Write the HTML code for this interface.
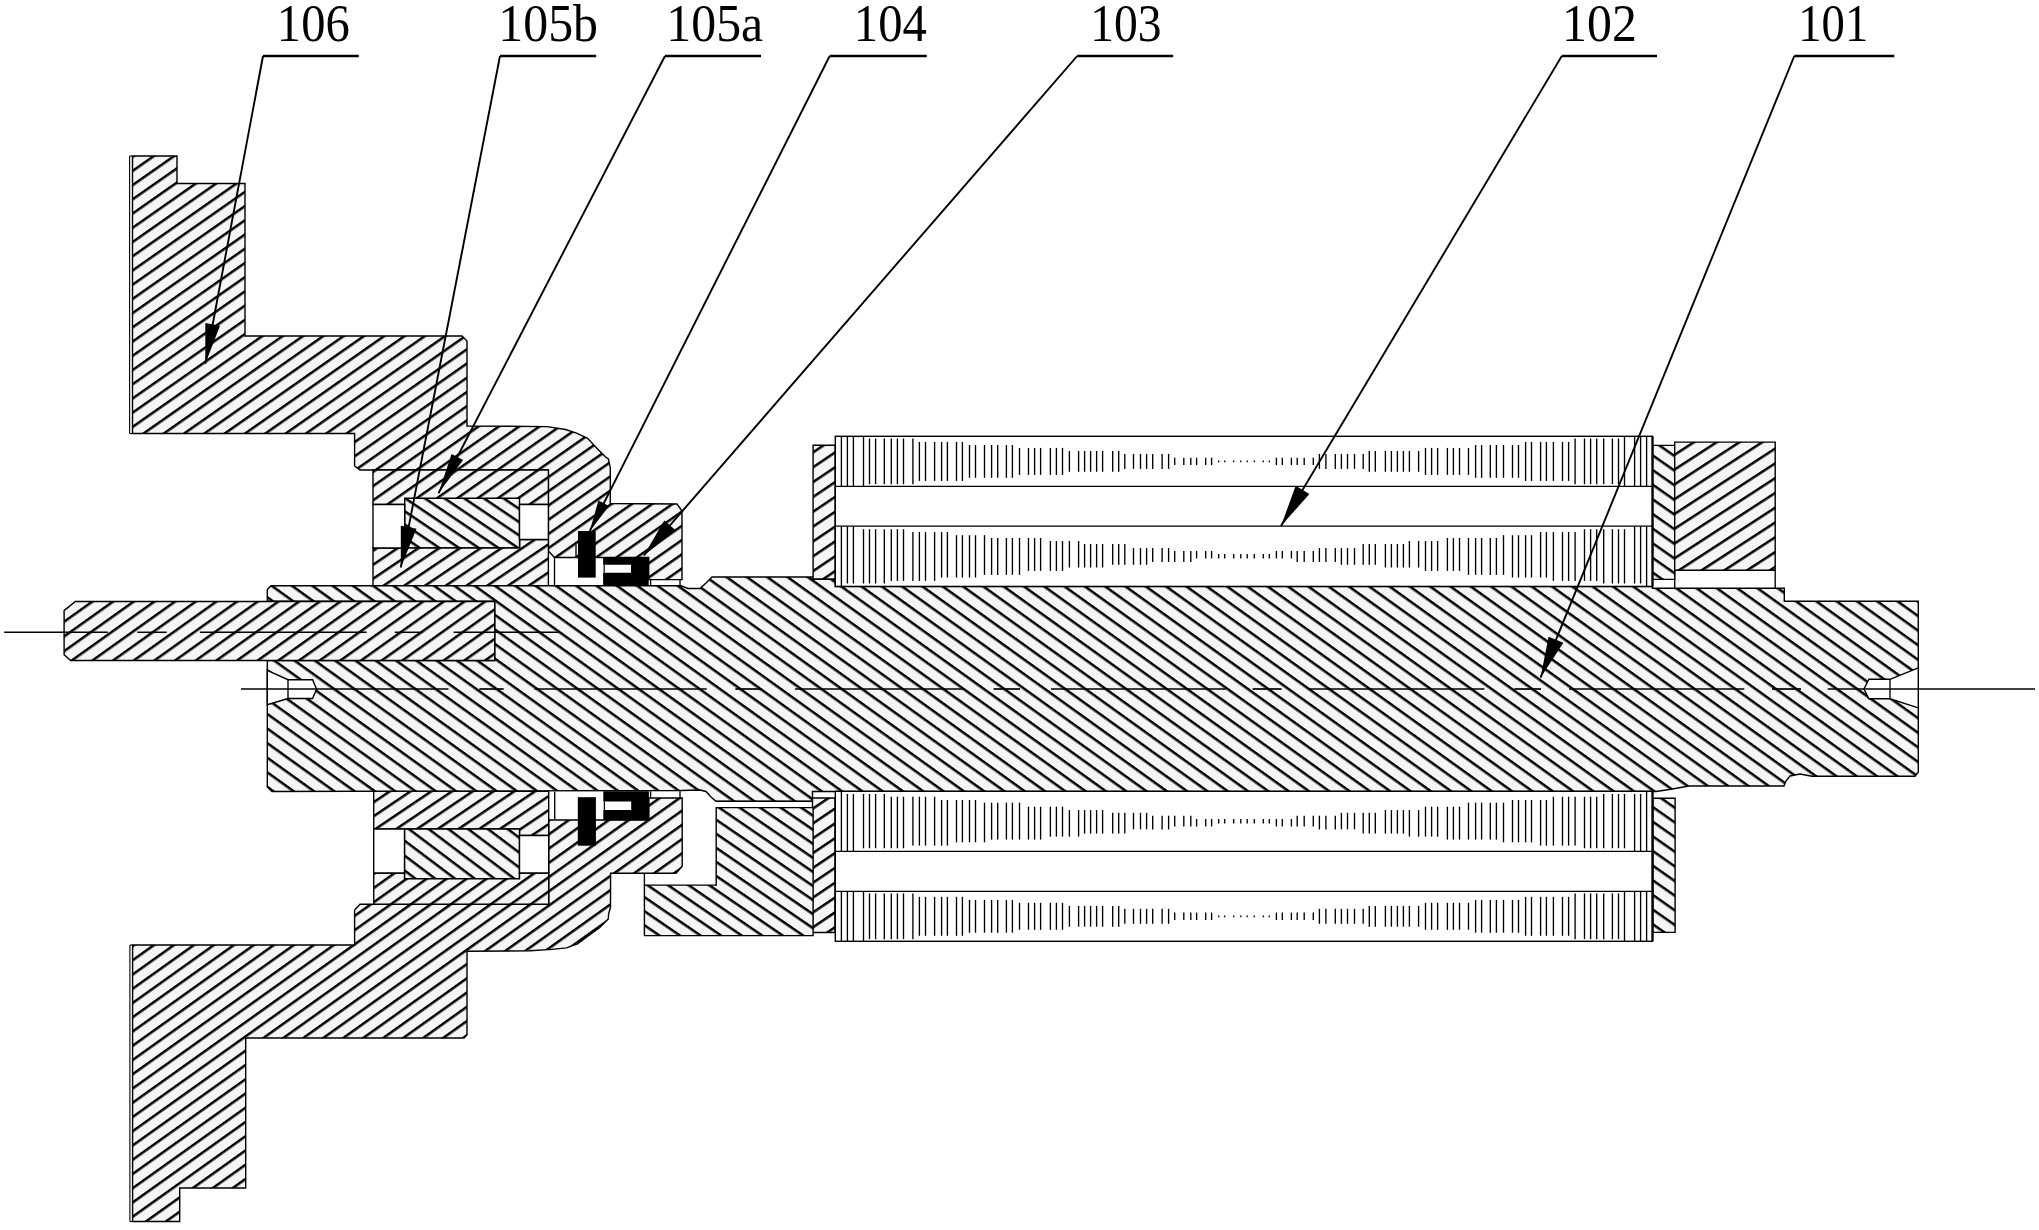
<!DOCTYPE html>
<html><head><meta charset="utf-8"><style>html,body{margin:0;padding:0;background:#fff;overflow:hidden}svg{display:block}text{font-family:"Liberation Serif",serif}</style></head>
<body><svg width="2039" height="1230" viewBox="0 0 2039 1230" shape-rendering="auto">
<defs><pattern id="hA" patternUnits="userSpaceOnUse" width="400" height="11.65" patternTransform="rotate(-35) translate(0 5.12)"><rect x="0" y="0" width="400" height="11.65" fill="#f5f5f5"/><rect x="0" y="0" width="400" height="2.5" fill="#000"/></pattern>
<pattern id="hL" patternUnits="userSpaceOnUse" width="400" height="11.6" patternTransform="rotate(-35.5) translate(0 10.74)"><rect x="0" y="0" width="400" height="11.6" fill="#f5f5f5"/><rect x="0" y="0" width="400" height="2.5" fill="#000"/></pattern>
<pattern id="hR" patternUnits="userSpaceOnUse" width="400" height="11.6" patternTransform="rotate(-34) translate(0 2.78)"><rect x="0" y="0" width="400" height="11.6" fill="#f5f5f5"/><rect x="0" y="0" width="400" height="2.5" fill="#000"/></pattern>
<pattern id="hB" patternUnits="userSpaceOnUse" width="400" height="11.85" patternTransform="rotate(35.7) translate(0 7.81)"><rect x="0" y="0" width="400" height="11.85" fill="#f5f5f5"/><rect x="0" y="0" width="400" height="2.5" fill="#000"/></pattern>
<pattern id="hC" patternUnits="userSpaceOnUse" width="400" height="12.0" patternTransform="rotate(-35.5) translate(0 2.15)"><rect x="0" y="0" width="400" height="12.0" fill="#f5f5f5"/><rect x="0" y="0" width="400" height="2.5" fill="#000"/></pattern>
<pattern id="hD" patternUnits="userSpaceOnUse" width="400" height="11.0" patternTransform="rotate(34) translate(0 9.30)"><rect x="0" y="0" width="400" height="11.0" fill="#f5f5f5"/><rect x="0" y="0" width="400" height="2.5" fill="#000"/></pattern>
<pattern id="hF" patternUnits="userSpaceOnUse" width="400" height="12.0" patternTransform="rotate(35) translate(0 11.83)"><rect x="0" y="0" width="400" height="12.0" fill="#f5f5f5"/><rect x="0" y="0" width="400" height="2.5" fill="#000"/></pattern>
<pattern id="hE" patternUnits="userSpaceOnUse" width="400" height="12.3" patternTransform="rotate(-34) translate(0 4.39)"><rect x="0" y="0" width="400" height="12.3" fill="#f5f5f5"/><rect x="0" y="0" width="400" height="2.5" fill="#000"/></pattern>
<pattern id="hE2" patternUnits="userSpaceOnUse" width="400" height="12.4" patternTransform="rotate(-33) translate(0 2.60)"><rect x="0" y="0" width="400" height="12.4" fill="#f5f5f5"/><rect x="0" y="0" width="400" height="2.5" fill="#000"/></pattern>
<pattern id="hG" patternUnits="userSpaceOnUse" width="400" height="11.6" patternTransform="rotate(34.4) translate(0 3.68)"><rect x="0" y="0" width="400" height="11.6" fill="#f5f5f5"/><rect x="0" y="0" width="400" height="2.5" fill="#000"/></pattern>
<pattern id="hD2" patternUnits="userSpaceOnUse" width="400" height="11.9" patternTransform="rotate(37) translate(0 10.18)"><rect x="0" y="0" width="400" height="11.9" fill="#f5f5f5"/><rect x="0" y="0" width="400" height="2.5" fill="#000"/></pattern></defs>
<rect width="2039" height="1230" fill="#fff"/>
<path d="M132.5 156.0 L177.0 156.0 L177.0 183.5 L245.0 183.5 L245.0 336.0 L462.0 336.0 L467.0 341.0 L467.0 426.0 L547.3 426.6 L565.6 429.5 L576.6 433.2 L587.6 438.3 L597.1 448.5 L605.9 457.3 L608.4 459.0 L610.3 467.6 L610.3 503.5 L677.0 504.0 L682.0 511.0 L682.0 579.6 L648.7 579.6 L648.7 557.5 L554.5 557.5 L548.4 551.0 L548.4 470.0 L360.0 470.0 L354.6 466.0 L354.6 433.5 L132.5 433.5 Z" fill="url(#hA)" stroke="#000" stroke-width="1.4" stroke-linejoin="miter"/>
<path d="M129.6 156.0 L129.6 433.5" stroke="#000" stroke-width="1.1"/>
<path d="M129.6 156.0 L132.5 156.0" stroke="#000" stroke-width="1.1"/>
<path d="M129.6 433.5 L132.5 433.5" stroke="#000" stroke-width="1.1"/>
<path d="M132.6 945.0 L354.6 945.0 L354.6 910.0 L360.0 904.2 L548.7 904.2 L548.7 820.0 L648.9 820.0 L648.9 798.0 L682.2 798.0 L682.2 866.3 L676.0 873.2 L610.6 873.2 L610.5 907.3 L608.6 913.9 L608.3 919.0 L599.5 927.8 L588.5 935.8 L577.5 943.9 L566.6 947.9 L552.0 949.4 L530.0 950.8 L467.0 951.2 L467.0 1035.0 L464.0 1038.0 L245.7 1038.0 L245.7 1188.0 L179.7 1188.0 L179.7 1221.5 L132.6 1221.5 Z" fill="url(#hL)" stroke="#000" stroke-width="1.4" stroke-linejoin="miter"/>
<path d="M129.9 945.0 L129.9 1221.5" stroke="#000" stroke-width="1.1"/>
<path d="M129.9 945.0 L132.6 945.0" stroke="#000" stroke-width="1.1"/>
<path d="M129.9 1221.5 L132.6 1221.5" stroke="#000" stroke-width="1.1"/>
<path d="M373.0 470.0 L548.4 470.0 L548.4 504.5 L373.0 504.5 Z" fill="url(#hA)" stroke="#000" stroke-width="1.4" stroke-linejoin="miter"/>
<path d="M404.7 498.2 L519.5 498.2 L519.5 548.0 L404.7 548.0 Z" fill="url(#hD)" stroke="#000" stroke-width="1.4" stroke-linejoin="miter"/>
<path d="M373.0 548.0 L519.8 548.0 L519.8 539.5 L548.4 539.5 L548.4 585.8 L373.0 585.8 Z" fill="url(#hR)" stroke="#000" stroke-width="1.4" stroke-linejoin="miter"/>
<path d="M373.7 791.3 L548.7 791.3 L548.7 835.5 L519.5 835.5 L519.5 829.0 L373.7 829.0 Z" fill="url(#hR)" stroke="#000" stroke-width="1.4" stroke-linejoin="miter"/>
<path d="M404.5 829.0 L519.5 829.0 L519.5 878.8 L404.5 878.8 Z" fill="url(#hD2)" stroke="#000" stroke-width="1.4" stroke-linejoin="miter"/>
<path d="M373.7 873.0 L404.5 873.0 L404.5 878.8 L519.5 878.8 L519.5 873.0 L548.7 873.0 L548.7 904.2 L373.7 904.2 Z" fill="url(#hL)" stroke="#000" stroke-width="1.4" stroke-linejoin="miter"/>
<path d="M373.0 504.5 L404.7 504.5 L404.7 548.0 L373.0 548.0 Z" fill="#fff" stroke="#000" stroke-width="1.4" stroke-linejoin="miter"/>
<path d="M519.5 504.5 L548.4 504.5 L548.4 539.5 L519.5 539.5 Z" fill="#fff" stroke="#000" stroke-width="1.4" stroke-linejoin="miter"/>
<path d="M373.7 829.0 L404.5 829.0 L404.5 873.0 L373.7 873.0 Z" fill="#fff" stroke="#000" stroke-width="1.4" stroke-linejoin="miter"/>
<path d="M519.5 835.5 L548.7 835.5 L548.7 873.0 L519.5 873.0 Z" fill="#fff" stroke="#000" stroke-width="1.4" stroke-linejoin="miter"/>
<path d="M267.3 589.5 L271.0 585.8 L681.0 585.8 L688.0 588.5 L700.0 588.5 L706.0 583.0 L712.0 577.0 L813.0 577.0 L813.0 579.2 L835.3 579.2 L835.3 586.5 L1652.5 586.5 L1652.5 588.2 L1784.3 588.2 L1784.3 601.2 L1918.3 601.2 L1918.3 772.0 L1915.0 776.2 L1812.0 776.2 L1800.0 774.0 L1790.0 776.0 L1786.0 781.0 L1784.0 786.0 L1689.0 786.0 L1671.0 789.3 L1656.0 791.5 L835.0 791.5 L812.5 791.5 L812.5 801.3 L716.0 801.3 L711.0 797.0 L706.0 791.5 L700.0 790.0 L681.0 790.5 L272.0 791.5 L267.3 787.0 L267.3 660.5 L494.7 660.5 L494.7 601.3 L267.3 601.3 Z" fill="url(#hB)" stroke="#000" stroke-width="1.4" stroke-linejoin="miter"/>
<path d="M64.1 610.6 L75.3 601.5 L494.7 601.5 L494.7 660.5 L70.6 660.5 L64.1 654.7 Z" fill="url(#hC)" stroke="#000" stroke-width="1.4" stroke-linejoin="miter"/>
<path d="M267.3 670.3 L288.0 679.7 L312.6 679.7 L316.5 689.0 L312.6 698.5 L288.0 698.5 L267.3 704.7 Z" fill="#fff" stroke="#000" stroke-width="1.4" stroke-linejoin="miter"/>
<path d="M288.0 679.7 L288.0 698.5" stroke="#000" stroke-width="1.35"/>
<path d="M1918.3 667.9 L1890.0 679.3 L1868.9 679.3 L1864.0 689.0 L1868.9 698.8 L1890.0 698.8 L1918.3 707.9 Z" fill="#fff" stroke="#000" stroke-width="1.4" stroke-linejoin="miter"/>
<path d="M1890.0 679.3 L1890.0 698.8" stroke="#000" stroke-width="1.35"/>
<path d="M813.1 445.3 L835.2 445.3 L835.2 578.9 L813.1 578.9 Z" fill="url(#hE)" stroke="#000" stroke-width="1.4" stroke-linejoin="miter"/>
<path d="M812.5 798.0 L835.0 798.0 L835.0 932.5 L812.5 932.5 Z" fill="url(#hE)" stroke="#000" stroke-width="1.4" stroke-linejoin="miter"/>
<path d="M1652.5 445.4 L1674.7 445.4 L1674.7 579.4 L1652.5 579.4 Z" fill="url(#hF)" stroke="#000" stroke-width="1.4" stroke-linejoin="miter"/>
<path d="M1652.8 798.2 L1675.1 798.2 L1675.1 932.4 L1652.8 932.4 Z" fill="url(#hF)" stroke="#000" stroke-width="1.4" stroke-linejoin="miter"/>
<path d="M1674.7 442.1 L1775.2 442.1 L1775.2 570.3 L1674.7 570.3 Z" fill="url(#hE2)" stroke="#000" stroke-width="1.4" stroke-linejoin="miter"/>
<path d="M1674.7 570.0 L1674.7 588.0" stroke="#000" stroke-width="1.35"/>
<path d="M1775.2 570.0 L1775.2 588.0" stroke="#000" stroke-width="1.35"/>
<path d="M644.4 885.1 L716.2 885.1 L716.2 807.6 L813.1 807.6 L813.1 935.6 L644.4 935.6 Z" fill="url(#hG)" stroke="#000" stroke-width="1.4" stroke-linejoin="miter"/>
<path d="M716.2 801.3 L813.1 801.3" stroke="#000" stroke-width="1.35"/>
<path d="M644.4 873.0 L644.4 885.0" stroke="#000" stroke-width="1.35"/>
<rect x="835.3" y="436.3" width="817.2" height="150.09999999999997" fill="#fff" stroke="#000" stroke-width="1.4" stroke-linejoin="miter"/>
<path d="M835.3 486.4 L1652.5 486.4" stroke="#000" stroke-width="1.35"/>
<path d="M835.3 526.1 L1652.5 526.1" stroke="#000" stroke-width="1.35"/>
<path d="M841.4 436.3 L841.4 486.4" stroke="#000" stroke-width="1.35"/>
<path d="M847.4 436.3 L847.4 486.4" stroke="#000" stroke-width="1.35"/>
<path d="M853.4 436.3 L853.4 486.4" stroke="#000" stroke-width="1.35"/>
<path d="M863.5 436.3 L863.5 486.4" stroke="#000" stroke-width="1.35"/>
<path d="M869.5 438.5 L869.5 484.2" stroke="#000" stroke-width="1.35"/>
<path d="M875.6 438.5 L875.6 484.2" stroke="#000" stroke-width="1.35"/>
<path d="M884.3 438.5 L884.3 484.2" stroke="#000" stroke-width="1.35"/>
<path d="M891.3 438.5 L891.3 484.2" stroke="#000" stroke-width="1.35"/>
<path d="M897.4 438.5 L897.4 484.2" stroke="#000" stroke-width="1.35"/>
<path d="M903.5 438.5 L903.5 484.2" stroke="#000" stroke-width="1.35"/>
<path d="M912.9 438.5 L912.9 484.2" stroke="#000" stroke-width="1.35"/>
<path d="M919.4 441.9 L919.4 480.9" stroke="#000" stroke-width="1.35"/>
<path d="M925.5 441.9 L925.5 480.9" stroke="#000" stroke-width="1.35"/>
<path d="M934.6 441.9 L934.6 480.9" stroke="#000" stroke-width="1.35"/>
<path d="M941.6 441.9 L941.6 480.9" stroke="#000" stroke-width="1.35"/>
<path d="M947.4 441.9 L947.4 480.9" stroke="#000" stroke-width="1.35"/>
<path d="M956.5 441.9 L956.5 480.9" stroke="#000" stroke-width="1.35"/>
<path d="M962.4 441.9 L962.4 480.9" stroke="#000" stroke-width="1.35"/>
<path d="M969.5 445.0 L969.5 477.8" stroke="#000" stroke-width="1.35"/>
<path d="M975.5 445.0 L975.5 477.8" stroke="#000" stroke-width="1.35"/>
<path d="M984.5 445.0 L984.5 477.8" stroke="#000" stroke-width="1.35"/>
<path d="M991.6 445.0 L991.6 477.8" stroke="#000" stroke-width="1.35"/>
<path d="M997.7 445.0 L997.7 477.8" stroke="#000" stroke-width="1.35"/>
<path d="M1006.4 445.0 L1006.4 477.8" stroke="#000" stroke-width="1.35"/>
<path d="M1012.4 445.0 L1012.4 477.8" stroke="#000" stroke-width="1.35"/>
<path d="M1019.5 447.9 L1019.5 474.9" stroke="#000" stroke-width="1.35"/>
<path d="M1028.5 447.9 L1028.5 474.9" stroke="#000" stroke-width="1.35"/>
<path d="M1034.6 447.9 L1034.6 474.9" stroke="#000" stroke-width="1.35"/>
<path d="M1040.6 447.9 L1040.6 474.9" stroke="#000" stroke-width="1.35"/>
<path d="M1050.4 447.9 L1050.4 474.9" stroke="#000" stroke-width="1.35"/>
<path d="M1056.4 447.9 L1056.4 474.9" stroke="#000" stroke-width="1.35"/>
<path d="M1062.5 447.9 L1062.5 474.9" stroke="#000" stroke-width="1.35"/>
<path d="M1069.4 451.0 L1069.4 471.8" stroke="#000" stroke-width="1.35"/>
<path d="M1078.6 451.0 L1078.6 471.8" stroke="#000" stroke-width="1.35"/>
<path d="M1084.6 451.0 L1084.6 471.8" stroke="#000" stroke-width="1.35"/>
<path d="M1090.6 451.0 L1090.6 471.8" stroke="#000" stroke-width="1.35"/>
<path d="M1096.6 451.0 L1096.6 471.8" stroke="#000" stroke-width="1.35"/>
<path d="M1102.6 451.0 L1102.6 471.8" stroke="#000" stroke-width="1.35"/>
<path d="M1112.7 451.0 L1112.7 471.8" stroke="#000" stroke-width="1.35"/>
<path d="M1118.7 451.0 L1118.7 471.8" stroke="#000" stroke-width="1.35"/>
<path d="M1124.8 453.9 L1124.8 468.9" stroke="#000" stroke-width="1.35"/>
<path d="M1133.5 453.9 L1133.5 468.9" stroke="#000" stroke-width="1.35"/>
<path d="M1140.5 453.9 L1140.5 468.9" stroke="#000" stroke-width="1.35"/>
<path d="M1146.6 453.9 L1146.6 468.9" stroke="#000" stroke-width="1.35"/>
<path d="M1152.7 453.9 L1152.7 468.9" stroke="#000" stroke-width="1.35"/>
<path d="M1162.1 453.9 L1162.1 468.9" stroke="#000" stroke-width="1.35"/>
<path d="M1168.6 453.9 L1168.6 468.9" stroke="#000" stroke-width="1.35"/>
<path d="M1174.7 457.7 L1174.7 465.1" stroke="#000" stroke-width="1.35"/>
<path d="M1183.8 457.7 L1183.8 465.1" stroke="#000" stroke-width="1.35"/>
<path d="M1190.8 457.7 L1190.8 465.1" stroke="#000" stroke-width="1.35"/>
<path d="M1196.6 457.7 L1196.6 465.1" stroke="#000" stroke-width="1.35"/>
<path d="M1205.7 457.7 L1205.7 465.1" stroke="#000" stroke-width="1.35"/>
<path d="M1211.6 457.7 L1211.6 465.1" stroke="#000" stroke-width="1.35"/>
<path d="M1218.7 460.5 L1218.7 462.2" stroke="#000" stroke-width="1.35"/>
<path d="M1224.7 460.5 L1224.7 462.2" stroke="#000" stroke-width="1.35"/>
<path d="M1233.7 460.5 L1233.7 462.2" stroke="#000" stroke-width="1.35"/>
<path d="M1240.8 460.5 L1240.8 462.2" stroke="#000" stroke-width="1.35"/>
<path d="M1247.2 460.5 L1247.2 462.2" stroke="#000" stroke-width="1.35"/>
<path d="M1254.3 460.5 L1254.3 462.2" stroke="#000" stroke-width="1.35"/>
<path d="M1263.3 460.5 L1263.3 462.2" stroke="#000" stroke-width="1.35"/>
<path d="M1269.3 460.5 L1269.3 462.2" stroke="#000" stroke-width="1.35"/>
<path d="M1276.4 457.7 L1276.4 465.1" stroke="#000" stroke-width="1.35"/>
<path d="M1282.3 457.7 L1282.3 465.1" stroke="#000" stroke-width="1.35"/>
<path d="M1291.4 457.7 L1291.4 465.1" stroke="#000" stroke-width="1.35"/>
<path d="M1297.2 457.7 L1297.2 465.1" stroke="#000" stroke-width="1.35"/>
<path d="M1304.2 457.7 L1304.2 465.1" stroke="#000" stroke-width="1.35"/>
<path d="M1313.3 457.7 L1313.3 465.1" stroke="#000" stroke-width="1.35"/>
<path d="M1319.4 453.9 L1319.4 468.9" stroke="#000" stroke-width="1.35"/>
<path d="M1325.9 453.9 L1325.9 468.9" stroke="#000" stroke-width="1.35"/>
<path d="M1335.3 453.9 L1335.3 468.9" stroke="#000" stroke-width="1.35"/>
<path d="M1341.4 453.9 L1341.4 468.9" stroke="#000" stroke-width="1.35"/>
<path d="M1347.5 453.9 L1347.5 468.9" stroke="#000" stroke-width="1.35"/>
<path d="M1354.5 453.9 L1354.5 468.9" stroke="#000" stroke-width="1.35"/>
<path d="M1363.2 453.9 L1363.2 468.9" stroke="#000" stroke-width="1.35"/>
<path d="M1369.3 451.0 L1369.3 471.8" stroke="#000" stroke-width="1.35"/>
<path d="M1375.3 451.0 L1375.3 471.8" stroke="#000" stroke-width="1.35"/>
<path d="M1385.4 451.0 L1385.4 471.8" stroke="#000" stroke-width="1.35"/>
<path d="M1391.4 451.0 L1391.4 471.8" stroke="#000" stroke-width="1.35"/>
<path d="M1397.4 451.0 L1397.4 471.8" stroke="#000" stroke-width="1.35"/>
<path d="M1403.4 451.0 L1403.4 471.8" stroke="#000" stroke-width="1.35"/>
<path d="M1409.4 451.0 L1409.4 471.8" stroke="#000" stroke-width="1.35"/>
<path d="M1418.6 451.0 L1418.6 471.8" stroke="#000" stroke-width="1.35"/>
<path d="M1425.5 447.9 L1425.5 474.9" stroke="#000" stroke-width="1.35"/>
<path d="M1431.6 447.9 L1431.6 474.9" stroke="#000" stroke-width="1.35"/>
<path d="M1437.6 447.9 L1437.6 474.9" stroke="#000" stroke-width="1.35"/>
<path d="M1447.4 447.9 L1447.4 474.9" stroke="#000" stroke-width="1.35"/>
<path d="M1453.4 447.9 L1453.4 474.9" stroke="#000" stroke-width="1.35"/>
<path d="M1459.5 447.9 L1459.5 474.9" stroke="#000" stroke-width="1.35"/>
<path d="M1468.5 447.9 L1468.5 474.9" stroke="#000" stroke-width="1.35"/>
<path d="M1475.6 445.0 L1475.6 477.8" stroke="#000" stroke-width="1.35"/>
<path d="M1481.6 445.0 L1481.6 477.8" stroke="#000" stroke-width="1.35"/>
<path d="M1490.3 445.0 L1490.3 477.8" stroke="#000" stroke-width="1.35"/>
<path d="M1496.4 445.0 L1496.4 477.8" stroke="#000" stroke-width="1.35"/>
<path d="M1503.5 445.0 L1503.5 477.8" stroke="#000" stroke-width="1.35"/>
<path d="M1512.5 445.0 L1512.5 477.8" stroke="#000" stroke-width="1.35"/>
<path d="M1518.5 445.0 L1518.5 477.8" stroke="#000" stroke-width="1.35"/>
<path d="M1525.6 441.9 L1525.6 480.9" stroke="#000" stroke-width="1.35"/>
<path d="M1531.5 441.9 L1531.5 480.9" stroke="#000" stroke-width="1.35"/>
<path d="M1540.6 441.9 L1540.6 480.9" stroke="#000" stroke-width="1.35"/>
<path d="M1546.4 441.9 L1546.4 480.9" stroke="#000" stroke-width="1.35"/>
<path d="M1553.4 441.9 L1553.4 480.9" stroke="#000" stroke-width="1.35"/>
<path d="M1562.5 441.9 L1562.5 480.9" stroke="#000" stroke-width="1.35"/>
<path d="M1568.6 441.9 L1568.6 480.9" stroke="#000" stroke-width="1.35"/>
<path d="M1575.1 438.5 L1575.1 484.2" stroke="#000" stroke-width="1.35"/>
<path d="M1584.5 438.5 L1584.5 484.2" stroke="#000" stroke-width="1.35"/>
<path d="M1590.6 438.5 L1590.6 484.2" stroke="#000" stroke-width="1.35"/>
<path d="M1596.7 438.5 L1596.7 484.2" stroke="#000" stroke-width="1.35"/>
<path d="M1603.7 438.5 L1603.7 484.2" stroke="#000" stroke-width="1.35"/>
<path d="M1612.4 438.5 L1612.4 484.2" stroke="#000" stroke-width="1.35"/>
<path d="M1618.5 438.5 L1618.5 484.2" stroke="#000" stroke-width="1.35"/>
<path d="M1624.5 436.3 L1624.5 486.4" stroke="#000" stroke-width="1.35"/>
<path d="M1634.6 436.3 L1634.6 486.4" stroke="#000" stroke-width="1.35"/>
<path d="M1640.6 436.3 L1640.6 486.4" stroke="#000" stroke-width="1.35"/>
<path d="M1646.6 436.3 L1646.6 486.4" stroke="#000" stroke-width="1.35"/>
<path d="M841.4 526.1 L841.4 586.4" stroke="#000" stroke-width="1.35"/>
<path d="M847.4 526.1 L847.4 583.5" stroke="#000" stroke-width="1.35"/>
<path d="M853.4 526.1 L853.4 583.5" stroke="#000" stroke-width="1.35"/>
<path d="M863.5 529.2 L863.5 583.5" stroke="#000" stroke-width="1.35"/>
<path d="M869.5 529.2 L869.5 583.5" stroke="#000" stroke-width="1.35"/>
<path d="M875.6 529.2 L875.6 583.5" stroke="#000" stroke-width="1.35"/>
<path d="M884.3 529.2 L884.3 583.5" stroke="#000" stroke-width="1.35"/>
<path d="M891.3 529.2 L891.3 580.9" stroke="#000" stroke-width="1.35"/>
<path d="M897.4 529.2 L897.4 580.9" stroke="#000" stroke-width="1.35"/>
<path d="M903.5 529.2 L903.5 580.9" stroke="#000" stroke-width="1.35"/>
<path d="M912.9 532.0 L912.9 580.9" stroke="#000" stroke-width="1.35"/>
<path d="M919.4 532.0 L919.4 580.9" stroke="#000" stroke-width="1.35"/>
<path d="M925.5 532.0 L925.5 580.9" stroke="#000" stroke-width="1.35"/>
<path d="M934.6 532.0 L934.6 580.9" stroke="#000" stroke-width="1.35"/>
<path d="M941.6 532.0 L941.6 577.5" stroke="#000" stroke-width="1.35"/>
<path d="M947.4 532.0 L947.4 577.5" stroke="#000" stroke-width="1.35"/>
<path d="M956.5 535.2 L956.5 577.5" stroke="#000" stroke-width="1.35"/>
<path d="M962.4 535.2 L962.4 577.5" stroke="#000" stroke-width="1.35"/>
<path d="M969.5 535.2 L969.5 577.5" stroke="#000" stroke-width="1.35"/>
<path d="M975.5 535.2 L975.5 577.5" stroke="#000" stroke-width="1.35"/>
<path d="M984.5 535.2 L984.5 574.9" stroke="#000" stroke-width="1.35"/>
<path d="M991.6 538.0 L991.6 574.9" stroke="#000" stroke-width="1.35"/>
<path d="M997.7 538.0 L997.7 574.9" stroke="#000" stroke-width="1.35"/>
<path d="M1006.4 538.0 L1006.4 574.9" stroke="#000" stroke-width="1.35"/>
<path d="M1012.4 538.0 L1012.4 574.9" stroke="#000" stroke-width="1.35"/>
<path d="M1019.5 538.0 L1019.5 574.9" stroke="#000" stroke-width="1.35"/>
<path d="M1028.5 538.0 L1028.5 570.9" stroke="#000" stroke-width="1.35"/>
<path d="M1034.6 538.0 L1034.6 570.9" stroke="#000" stroke-width="1.35"/>
<path d="M1040.6 538.0 L1040.6 570.9" stroke="#000" stroke-width="1.35"/>
<path d="M1050.4 541.0 L1050.4 570.9" stroke="#000" stroke-width="1.35"/>
<path d="M1056.4 541.0 L1056.4 570.9" stroke="#000" stroke-width="1.35"/>
<path d="M1062.5 541.0 L1062.5 570.9" stroke="#000" stroke-width="1.35"/>
<path d="M1069.4 541.0 L1069.4 567.5" stroke="#000" stroke-width="1.35"/>
<path d="M1078.6 541.0 L1078.6 567.5" stroke="#000" stroke-width="1.35"/>
<path d="M1084.6 544.0 L1084.6 567.5" stroke="#000" stroke-width="1.35"/>
<path d="M1090.6 544.0 L1090.6 567.5" stroke="#000" stroke-width="1.35"/>
<path d="M1096.6 544.0 L1096.6 567.5" stroke="#000" stroke-width="1.35"/>
<path d="M1102.6 544.0 L1102.6 567.5" stroke="#000" stroke-width="1.35"/>
<path d="M1112.7 544.0 L1112.7 564.8" stroke="#000" stroke-width="1.35"/>
<path d="M1118.7 544.0 L1118.7 564.8" stroke="#000" stroke-width="1.35"/>
<path d="M1124.8 544.0 L1124.8 564.8" stroke="#000" stroke-width="1.35"/>
<path d="M1133.5 548.1 L1133.5 564.8" stroke="#000" stroke-width="1.35"/>
<path d="M1140.5 548.1 L1140.5 564.8" stroke="#000" stroke-width="1.35"/>
<path d="M1146.6 548.1 L1146.6 564.8" stroke="#000" stroke-width="1.35"/>
<path d="M1152.7 548.1 L1152.7 561.9" stroke="#000" stroke-width="1.35"/>
<path d="M1162.1 548.1 L1162.1 561.9" stroke="#000" stroke-width="1.35"/>
<path d="M1168.6 548.1 L1168.6 561.9" stroke="#000" stroke-width="1.35"/>
<path d="M1174.7 551.0 L1174.7 561.9" stroke="#000" stroke-width="1.35"/>
<path d="M1183.8 551.0 L1183.8 561.9" stroke="#000" stroke-width="1.35"/>
<path d="M1190.8 551.0 L1190.8 561.9" stroke="#000" stroke-width="1.35"/>
<path d="M1196.6 551.0 L1196.6 558.5" stroke="#000" stroke-width="1.35"/>
<path d="M1205.7 551.0 L1205.7 558.5" stroke="#000" stroke-width="1.35"/>
<path d="M1211.6 551.0 L1211.6 558.5" stroke="#000" stroke-width="1.35"/>
<path d="M1218.7 554.0 L1218.7 558.5" stroke="#000" stroke-width="1.35"/>
<path d="M1224.7 554.0 L1224.7 558.5" stroke="#000" stroke-width="1.35"/>
<path d="M1233.7 554.0 L1233.7 558.5" stroke="#000" stroke-width="1.35"/>
<path d="M1240.8 554.0 L1240.8 558.5" stroke="#000" stroke-width="1.35"/>
<path d="M1247.2 554.0 L1247.2 558.5" stroke="#000" stroke-width="1.35"/>
<path d="M1254.3 554.0 L1254.3 558.5" stroke="#000" stroke-width="1.35"/>
<path d="M1263.3 554.0 L1263.3 558.5" stroke="#000" stroke-width="1.35"/>
<path d="M1269.3 554.0 L1269.3 558.5" stroke="#000" stroke-width="1.35"/>
<path d="M1276.4 551.0 L1276.4 558.5" stroke="#000" stroke-width="1.35"/>
<path d="M1282.3 551.0 L1282.3 558.5" stroke="#000" stroke-width="1.35"/>
<path d="M1291.4 551.0 L1291.4 558.5" stroke="#000" stroke-width="1.35"/>
<path d="M1297.2 551.0 L1297.2 561.9" stroke="#000" stroke-width="1.35"/>
<path d="M1304.2 551.0 L1304.2 561.9" stroke="#000" stroke-width="1.35"/>
<path d="M1313.3 551.0 L1313.3 561.9" stroke="#000" stroke-width="1.35"/>
<path d="M1319.4 548.1 L1319.4 561.9" stroke="#000" stroke-width="1.35"/>
<path d="M1325.9 548.1 L1325.9 561.9" stroke="#000" stroke-width="1.35"/>
<path d="M1335.3 548.1 L1335.3 561.9" stroke="#000" stroke-width="1.35"/>
<path d="M1341.4 548.1 L1341.4 564.8" stroke="#000" stroke-width="1.35"/>
<path d="M1347.5 548.1 L1347.5 564.8" stroke="#000" stroke-width="1.35"/>
<path d="M1354.5 548.1 L1354.5 564.8" stroke="#000" stroke-width="1.35"/>
<path d="M1363.2 544.0 L1363.2 564.8" stroke="#000" stroke-width="1.35"/>
<path d="M1369.3 544.0 L1369.3 564.8" stroke="#000" stroke-width="1.35"/>
<path d="M1375.3 544.0 L1375.3 564.8" stroke="#000" stroke-width="1.35"/>
<path d="M1385.4 544.0 L1385.4 567.5" stroke="#000" stroke-width="1.35"/>
<path d="M1391.4 544.0 L1391.4 567.5" stroke="#000" stroke-width="1.35"/>
<path d="M1397.4 544.0 L1397.4 567.5" stroke="#000" stroke-width="1.35"/>
<path d="M1403.4 544.0 L1403.4 567.5" stroke="#000" stroke-width="1.35"/>
<path d="M1409.4 541.0 L1409.4 567.5" stroke="#000" stroke-width="1.35"/>
<path d="M1418.6 541.0 L1418.6 567.5" stroke="#000" stroke-width="1.35"/>
<path d="M1425.5 541.0 L1425.5 570.9" stroke="#000" stroke-width="1.35"/>
<path d="M1431.6 541.0 L1431.6 570.9" stroke="#000" stroke-width="1.35"/>
<path d="M1437.6 541.0 L1437.6 570.9" stroke="#000" stroke-width="1.35"/>
<path d="M1447.4 538.0 L1447.4 570.9" stroke="#000" stroke-width="1.35"/>
<path d="M1453.4 538.0 L1453.4 570.9" stroke="#000" stroke-width="1.35"/>
<path d="M1459.5 538.0 L1459.5 570.9" stroke="#000" stroke-width="1.35"/>
<path d="M1468.5 538.0 L1468.5 574.9" stroke="#000" stroke-width="1.35"/>
<path d="M1475.6 538.0 L1475.6 574.9" stroke="#000" stroke-width="1.35"/>
<path d="M1481.6 538.0 L1481.6 574.9" stroke="#000" stroke-width="1.35"/>
<path d="M1490.3 538.0 L1490.3 574.9" stroke="#000" stroke-width="1.35"/>
<path d="M1496.4 538.0 L1496.4 574.9" stroke="#000" stroke-width="1.35"/>
<path d="M1503.5 535.2 L1503.5 574.9" stroke="#000" stroke-width="1.35"/>
<path d="M1512.5 535.2 L1512.5 577.5" stroke="#000" stroke-width="1.35"/>
<path d="M1518.5 535.2 L1518.5 577.5" stroke="#000" stroke-width="1.35"/>
<path d="M1525.6 535.2 L1525.6 577.5" stroke="#000" stroke-width="1.35"/>
<path d="M1531.5 535.2 L1531.5 577.5" stroke="#000" stroke-width="1.35"/>
<path d="M1540.6 532.0 L1540.6 577.5" stroke="#000" stroke-width="1.35"/>
<path d="M1546.4 532.0 L1546.4 577.5" stroke="#000" stroke-width="1.35"/>
<path d="M1553.4 532.0 L1553.4 580.9" stroke="#000" stroke-width="1.35"/>
<path d="M1562.5 532.0 L1562.5 580.9" stroke="#000" stroke-width="1.35"/>
<path d="M1568.6 532.0 L1568.6 580.9" stroke="#000" stroke-width="1.35"/>
<path d="M1575.1 532.0 L1575.1 580.9" stroke="#000" stroke-width="1.35"/>
<path d="M1584.5 529.2 L1584.5 580.9" stroke="#000" stroke-width="1.35"/>
<path d="M1590.6 529.2 L1590.6 580.9" stroke="#000" stroke-width="1.35"/>
<path d="M1596.7 529.2 L1596.7 580.9" stroke="#000" stroke-width="1.35"/>
<path d="M1603.7 529.2 L1603.7 583.5" stroke="#000" stroke-width="1.35"/>
<path d="M1612.4 529.2 L1612.4 583.5" stroke="#000" stroke-width="1.35"/>
<path d="M1618.5 529.2 L1618.5 583.5" stroke="#000" stroke-width="1.35"/>
<path d="M1624.5 529.2 L1624.5 583.5" stroke="#000" stroke-width="1.35"/>
<path d="M1634.6 526.1 L1634.6 583.5" stroke="#000" stroke-width="1.35"/>
<path d="M1640.6 526.1 L1640.6 583.5" stroke="#000" stroke-width="1.35"/>
<path d="M1646.6 526.1 L1646.6 586.4" stroke="#000" stroke-width="1.35"/>
<path d="M1652.5 436.3 L1652.5 586.4" stroke="#000" stroke-width="2.2"/>
<rect x="835.3" y="791.3" width="817.2" height="150.0" fill="#fff" stroke="#000" stroke-width="1.4" stroke-linejoin="miter"/>
<path d="M835.3 851.4 L1652.5 851.4" stroke="#000" stroke-width="1.35"/>
<path d="M835.3 891.4 L1652.5 891.4" stroke="#000" stroke-width="1.35"/>
<path d="M841.4 791.3 L841.4 851.4" stroke="#000" stroke-width="1.35"/>
<path d="M847.4 794.0 L847.4 851.4" stroke="#000" stroke-width="1.35"/>
<path d="M853.4 794.0 L853.4 851.4" stroke="#000" stroke-width="1.35"/>
<path d="M863.5 794.0 L863.5 848.3" stroke="#000" stroke-width="1.35"/>
<path d="M869.5 794.0 L869.5 848.3" stroke="#000" stroke-width="1.35"/>
<path d="M875.6 794.0 L875.6 848.3" stroke="#000" stroke-width="1.35"/>
<path d="M884.3 794.0 L884.3 848.3" stroke="#000" stroke-width="1.35"/>
<path d="M891.3 796.7 L891.3 848.3" stroke="#000" stroke-width="1.35"/>
<path d="M897.4 796.7 L897.4 848.3" stroke="#000" stroke-width="1.35"/>
<path d="M903.5 796.7 L903.5 848.3" stroke="#000" stroke-width="1.35"/>
<path d="M912.9 796.7 L912.9 845.6" stroke="#000" stroke-width="1.35"/>
<path d="M919.4 796.7 L919.4 845.6" stroke="#000" stroke-width="1.35"/>
<path d="M925.5 796.7 L925.5 845.6" stroke="#000" stroke-width="1.35"/>
<path d="M934.6 796.7 L934.6 845.6" stroke="#000" stroke-width="1.35"/>
<path d="M941.6 800.0 L941.6 845.6" stroke="#000" stroke-width="1.35"/>
<path d="M947.4 800.0 L947.4 845.6" stroke="#000" stroke-width="1.35"/>
<path d="M956.5 800.0 L956.5 842.3" stroke="#000" stroke-width="1.35"/>
<path d="M962.4 800.0 L962.4 842.3" stroke="#000" stroke-width="1.35"/>
<path d="M969.5 800.0 L969.5 842.3" stroke="#000" stroke-width="1.35"/>
<path d="M975.5 800.0 L975.5 842.3" stroke="#000" stroke-width="1.35"/>
<path d="M984.5 802.7 L984.5 842.3" stroke="#000" stroke-width="1.35"/>
<path d="M991.6 802.7 L991.6 839.6" stroke="#000" stroke-width="1.35"/>
<path d="M997.7 802.7 L997.7 839.6" stroke="#000" stroke-width="1.35"/>
<path d="M1006.4 802.7 L1006.4 839.6" stroke="#000" stroke-width="1.35"/>
<path d="M1012.4 802.7 L1012.4 839.6" stroke="#000" stroke-width="1.35"/>
<path d="M1019.5 802.7 L1019.5 839.6" stroke="#000" stroke-width="1.35"/>
<path d="M1028.5 806.7 L1028.5 839.6" stroke="#000" stroke-width="1.35"/>
<path d="M1034.6 806.7 L1034.6 839.6" stroke="#000" stroke-width="1.35"/>
<path d="M1040.6 806.7 L1040.6 839.6" stroke="#000" stroke-width="1.35"/>
<path d="M1050.4 806.7 L1050.4 836.6" stroke="#000" stroke-width="1.35"/>
<path d="M1056.4 806.7 L1056.4 836.6" stroke="#000" stroke-width="1.35"/>
<path d="M1062.5 806.7 L1062.5 836.6" stroke="#000" stroke-width="1.35"/>
<path d="M1069.4 810.1 L1069.4 836.6" stroke="#000" stroke-width="1.35"/>
<path d="M1078.6 810.1 L1078.6 836.6" stroke="#000" stroke-width="1.35"/>
<path d="M1084.6 810.1 L1084.6 833.6" stroke="#000" stroke-width="1.35"/>
<path d="M1090.6 810.1 L1090.6 833.6" stroke="#000" stroke-width="1.35"/>
<path d="M1096.6 810.1 L1096.6 833.6" stroke="#000" stroke-width="1.35"/>
<path d="M1102.6 810.1 L1102.6 833.6" stroke="#000" stroke-width="1.35"/>
<path d="M1112.7 812.8 L1112.7 833.6" stroke="#000" stroke-width="1.35"/>
<path d="M1118.7 812.8 L1118.7 833.6" stroke="#000" stroke-width="1.35"/>
<path d="M1124.8 812.8 L1124.8 833.6" stroke="#000" stroke-width="1.35"/>
<path d="M1133.5 812.8 L1133.5 829.4" stroke="#000" stroke-width="1.35"/>
<path d="M1140.5 812.8 L1140.5 829.4" stroke="#000" stroke-width="1.35"/>
<path d="M1146.6 812.8 L1146.6 829.4" stroke="#000" stroke-width="1.35"/>
<path d="M1152.7 815.7 L1152.7 829.4" stroke="#000" stroke-width="1.35"/>
<path d="M1162.1 815.7 L1162.1 829.4" stroke="#000" stroke-width="1.35"/>
<path d="M1168.6 815.7 L1168.6 829.4" stroke="#000" stroke-width="1.35"/>
<path d="M1174.7 815.7 L1174.7 826.5" stroke="#000" stroke-width="1.35"/>
<path d="M1183.8 815.7 L1183.8 826.5" stroke="#000" stroke-width="1.35"/>
<path d="M1190.8 815.7 L1190.8 826.5" stroke="#000" stroke-width="1.35"/>
<path d="M1196.6 819.0 L1196.6 826.5" stroke="#000" stroke-width="1.35"/>
<path d="M1205.7 819.0 L1205.7 826.5" stroke="#000" stroke-width="1.35"/>
<path d="M1211.6 819.0 L1211.6 826.5" stroke="#000" stroke-width="1.35"/>
<path d="M1218.7 819.0 L1218.7 823.6" stroke="#000" stroke-width="1.35"/>
<path d="M1224.7 819.0 L1224.7 823.6" stroke="#000" stroke-width="1.35"/>
<path d="M1233.7 819.0 L1233.7 823.6" stroke="#000" stroke-width="1.35"/>
<path d="M1240.8 819.0 L1240.8 823.6" stroke="#000" stroke-width="1.35"/>
<path d="M1247.2 819.0 L1247.2 823.6" stroke="#000" stroke-width="1.35"/>
<path d="M1254.3 819.0 L1254.3 823.6" stroke="#000" stroke-width="1.35"/>
<path d="M1263.3 819.0 L1263.3 823.6" stroke="#000" stroke-width="1.35"/>
<path d="M1269.3 819.0 L1269.3 823.6" stroke="#000" stroke-width="1.35"/>
<path d="M1276.4 819.0 L1276.4 826.5" stroke="#000" stroke-width="1.35"/>
<path d="M1282.3 819.0 L1282.3 826.5" stroke="#000" stroke-width="1.35"/>
<path d="M1291.4 819.0 L1291.4 826.5" stroke="#000" stroke-width="1.35"/>
<path d="M1297.2 815.7 L1297.2 826.5" stroke="#000" stroke-width="1.35"/>
<path d="M1304.2 815.7 L1304.2 826.5" stroke="#000" stroke-width="1.35"/>
<path d="M1313.3 815.7 L1313.3 826.5" stroke="#000" stroke-width="1.35"/>
<path d="M1319.4 815.7 L1319.4 829.4" stroke="#000" stroke-width="1.35"/>
<path d="M1325.9 815.7 L1325.9 829.4" stroke="#000" stroke-width="1.35"/>
<path d="M1335.3 815.7 L1335.3 829.4" stroke="#000" stroke-width="1.35"/>
<path d="M1341.4 812.8 L1341.4 829.4" stroke="#000" stroke-width="1.35"/>
<path d="M1347.5 812.8 L1347.5 829.4" stroke="#000" stroke-width="1.35"/>
<path d="M1354.5 812.8 L1354.5 829.4" stroke="#000" stroke-width="1.35"/>
<path d="M1363.2 812.8 L1363.2 833.6" stroke="#000" stroke-width="1.35"/>
<path d="M1369.3 812.8 L1369.3 833.6" stroke="#000" stroke-width="1.35"/>
<path d="M1375.3 812.8 L1375.3 833.6" stroke="#000" stroke-width="1.35"/>
<path d="M1385.4 810.1 L1385.4 833.6" stroke="#000" stroke-width="1.35"/>
<path d="M1391.4 810.1 L1391.4 833.6" stroke="#000" stroke-width="1.35"/>
<path d="M1397.4 810.1 L1397.4 833.6" stroke="#000" stroke-width="1.35"/>
<path d="M1403.4 810.1 L1403.4 833.6" stroke="#000" stroke-width="1.35"/>
<path d="M1409.4 810.1 L1409.4 836.6" stroke="#000" stroke-width="1.35"/>
<path d="M1418.6 810.1 L1418.6 836.6" stroke="#000" stroke-width="1.35"/>
<path d="M1425.5 806.7 L1425.5 836.6" stroke="#000" stroke-width="1.35"/>
<path d="M1431.6 806.7 L1431.6 836.6" stroke="#000" stroke-width="1.35"/>
<path d="M1437.6 806.7 L1437.6 836.6" stroke="#000" stroke-width="1.35"/>
<path d="M1447.4 806.7 L1447.4 839.6" stroke="#000" stroke-width="1.35"/>
<path d="M1453.4 806.7 L1453.4 839.6" stroke="#000" stroke-width="1.35"/>
<path d="M1459.5 806.7 L1459.5 839.6" stroke="#000" stroke-width="1.35"/>
<path d="M1468.5 802.7 L1468.5 839.6" stroke="#000" stroke-width="1.35"/>
<path d="M1475.6 802.7 L1475.6 839.6" stroke="#000" stroke-width="1.35"/>
<path d="M1481.6 802.7 L1481.6 839.6" stroke="#000" stroke-width="1.35"/>
<path d="M1490.3 802.7 L1490.3 839.6" stroke="#000" stroke-width="1.35"/>
<path d="M1496.4 802.7 L1496.4 839.6" stroke="#000" stroke-width="1.35"/>
<path d="M1503.5 802.7 L1503.5 842.3" stroke="#000" stroke-width="1.35"/>
<path d="M1512.5 800.0 L1512.5 842.3" stroke="#000" stroke-width="1.35"/>
<path d="M1518.5 800.0 L1518.5 842.3" stroke="#000" stroke-width="1.35"/>
<path d="M1525.6 800.0 L1525.6 842.3" stroke="#000" stroke-width="1.35"/>
<path d="M1531.5 800.0 L1531.5 842.3" stroke="#000" stroke-width="1.35"/>
<path d="M1540.6 800.0 L1540.6 845.6" stroke="#000" stroke-width="1.35"/>
<path d="M1546.4 800.0 L1546.4 845.6" stroke="#000" stroke-width="1.35"/>
<path d="M1553.4 796.7 L1553.4 845.6" stroke="#000" stroke-width="1.35"/>
<path d="M1562.5 796.7 L1562.5 845.6" stroke="#000" stroke-width="1.35"/>
<path d="M1568.6 796.7 L1568.6 845.6" stroke="#000" stroke-width="1.35"/>
<path d="M1575.1 796.7 L1575.1 845.6" stroke="#000" stroke-width="1.35"/>
<path d="M1584.5 796.7 L1584.5 848.3" stroke="#000" stroke-width="1.35"/>
<path d="M1590.6 796.7 L1590.6 848.3" stroke="#000" stroke-width="1.35"/>
<path d="M1596.7 796.7 L1596.7 848.3" stroke="#000" stroke-width="1.35"/>
<path d="M1603.7 794.0 L1603.7 848.3" stroke="#000" stroke-width="1.35"/>
<path d="M1612.4 794.0 L1612.4 848.3" stroke="#000" stroke-width="1.35"/>
<path d="M1618.5 794.0 L1618.5 848.3" stroke="#000" stroke-width="1.35"/>
<path d="M1624.5 794.0 L1624.5 848.3" stroke="#000" stroke-width="1.35"/>
<path d="M1634.6 794.0 L1634.6 851.4" stroke="#000" stroke-width="1.35"/>
<path d="M1640.6 794.0 L1640.6 851.4" stroke="#000" stroke-width="1.35"/>
<path d="M1646.6 791.3 L1646.6 851.4" stroke="#000" stroke-width="1.35"/>
<path d="M841.4 891.4 L841.4 941.3" stroke="#000" stroke-width="1.35"/>
<path d="M847.4 891.4 L847.4 941.3" stroke="#000" stroke-width="1.35"/>
<path d="M853.4 891.4 L853.4 941.3" stroke="#000" stroke-width="1.35"/>
<path d="M863.5 891.4 L863.5 941.3" stroke="#000" stroke-width="1.35"/>
<path d="M869.5 893.4 L869.5 939.2" stroke="#000" stroke-width="1.35"/>
<path d="M875.6 893.4 L875.6 939.2" stroke="#000" stroke-width="1.35"/>
<path d="M884.3 893.4 L884.3 939.2" stroke="#000" stroke-width="1.35"/>
<path d="M891.3 893.4 L891.3 939.2" stroke="#000" stroke-width="1.35"/>
<path d="M897.4 893.4 L897.4 939.2" stroke="#000" stroke-width="1.35"/>
<path d="M903.5 893.4 L903.5 939.2" stroke="#000" stroke-width="1.35"/>
<path d="M912.9 893.4 L912.9 939.2" stroke="#000" stroke-width="1.35"/>
<path d="M919.4 896.8 L919.4 935.8" stroke="#000" stroke-width="1.35"/>
<path d="M925.5 896.8 L925.5 935.8" stroke="#000" stroke-width="1.35"/>
<path d="M934.6 896.8 L934.6 935.8" stroke="#000" stroke-width="1.35"/>
<path d="M941.6 896.8 L941.6 935.8" stroke="#000" stroke-width="1.35"/>
<path d="M947.4 896.8 L947.4 935.8" stroke="#000" stroke-width="1.35"/>
<path d="M956.5 896.8 L956.5 935.8" stroke="#000" stroke-width="1.35"/>
<path d="M962.4 896.8 L962.4 935.8" stroke="#000" stroke-width="1.35"/>
<path d="M969.5 899.9 L969.5 932.7" stroke="#000" stroke-width="1.35"/>
<path d="M975.5 899.9 L975.5 932.7" stroke="#000" stroke-width="1.35"/>
<path d="M984.5 899.9 L984.5 932.7" stroke="#000" stroke-width="1.35"/>
<path d="M991.6 899.9 L991.6 932.7" stroke="#000" stroke-width="1.35"/>
<path d="M997.7 899.9 L997.7 932.7" stroke="#000" stroke-width="1.35"/>
<path d="M1006.4 899.9 L1006.4 932.7" stroke="#000" stroke-width="1.35"/>
<path d="M1012.4 899.9 L1012.4 932.7" stroke="#000" stroke-width="1.35"/>
<path d="M1019.5 902.8 L1019.5 929.8" stroke="#000" stroke-width="1.35"/>
<path d="M1028.5 902.8 L1028.5 929.8" stroke="#000" stroke-width="1.35"/>
<path d="M1034.6 902.8 L1034.6 929.8" stroke="#000" stroke-width="1.35"/>
<path d="M1040.6 902.8 L1040.6 929.8" stroke="#000" stroke-width="1.35"/>
<path d="M1050.4 902.8 L1050.4 929.8" stroke="#000" stroke-width="1.35"/>
<path d="M1056.4 902.8 L1056.4 929.8" stroke="#000" stroke-width="1.35"/>
<path d="M1062.5 902.8 L1062.5 929.8" stroke="#000" stroke-width="1.35"/>
<path d="M1069.4 905.9 L1069.4 926.7" stroke="#000" stroke-width="1.35"/>
<path d="M1078.6 905.9 L1078.6 926.7" stroke="#000" stroke-width="1.35"/>
<path d="M1084.6 905.9 L1084.6 926.7" stroke="#000" stroke-width="1.35"/>
<path d="M1090.6 905.9 L1090.6 926.7" stroke="#000" stroke-width="1.35"/>
<path d="M1096.6 905.9 L1096.6 926.7" stroke="#000" stroke-width="1.35"/>
<path d="M1102.6 905.9 L1102.6 926.7" stroke="#000" stroke-width="1.35"/>
<path d="M1112.7 905.9 L1112.7 926.7" stroke="#000" stroke-width="1.35"/>
<path d="M1118.7 905.9 L1118.7 926.7" stroke="#000" stroke-width="1.35"/>
<path d="M1124.8 908.8 L1124.8 923.8" stroke="#000" stroke-width="1.35"/>
<path d="M1133.5 908.8 L1133.5 923.8" stroke="#000" stroke-width="1.35"/>
<path d="M1140.5 908.8 L1140.5 923.8" stroke="#000" stroke-width="1.35"/>
<path d="M1146.6 908.8 L1146.6 923.8" stroke="#000" stroke-width="1.35"/>
<path d="M1152.7 908.8 L1152.7 923.8" stroke="#000" stroke-width="1.35"/>
<path d="M1162.1 908.8 L1162.1 923.8" stroke="#000" stroke-width="1.35"/>
<path d="M1168.6 908.8 L1168.6 923.8" stroke="#000" stroke-width="1.35"/>
<path d="M1174.7 912.6 L1174.7 920.0" stroke="#000" stroke-width="1.35"/>
<path d="M1183.8 912.6 L1183.8 920.0" stroke="#000" stroke-width="1.35"/>
<path d="M1190.8 912.6 L1190.8 920.0" stroke="#000" stroke-width="1.35"/>
<path d="M1196.6 912.6 L1196.6 920.0" stroke="#000" stroke-width="1.35"/>
<path d="M1205.7 912.6 L1205.7 920.0" stroke="#000" stroke-width="1.35"/>
<path d="M1211.6 912.6 L1211.6 920.0" stroke="#000" stroke-width="1.35"/>
<path d="M1218.7 915.4 L1218.7 917.2" stroke="#000" stroke-width="1.35"/>
<path d="M1224.7 915.4 L1224.7 917.2" stroke="#000" stroke-width="1.35"/>
<path d="M1233.7 915.4 L1233.7 917.2" stroke="#000" stroke-width="1.35"/>
<path d="M1240.8 915.4 L1240.8 917.2" stroke="#000" stroke-width="1.35"/>
<path d="M1247.2 915.4 L1247.2 917.2" stroke="#000" stroke-width="1.35"/>
<path d="M1254.3 915.4 L1254.3 917.2" stroke="#000" stroke-width="1.35"/>
<path d="M1263.3 915.4 L1263.3 917.2" stroke="#000" stroke-width="1.35"/>
<path d="M1269.3 915.4 L1269.3 917.2" stroke="#000" stroke-width="1.35"/>
<path d="M1276.4 912.6 L1276.4 920.0" stroke="#000" stroke-width="1.35"/>
<path d="M1282.3 912.6 L1282.3 920.0" stroke="#000" stroke-width="1.35"/>
<path d="M1291.4 912.6 L1291.4 920.0" stroke="#000" stroke-width="1.35"/>
<path d="M1297.2 912.6 L1297.2 920.0" stroke="#000" stroke-width="1.35"/>
<path d="M1304.2 912.6 L1304.2 920.0" stroke="#000" stroke-width="1.35"/>
<path d="M1313.3 912.6 L1313.3 920.0" stroke="#000" stroke-width="1.35"/>
<path d="M1319.4 908.8 L1319.4 923.8" stroke="#000" stroke-width="1.35"/>
<path d="M1325.9 908.8 L1325.9 923.8" stroke="#000" stroke-width="1.35"/>
<path d="M1335.3 908.8 L1335.3 923.8" stroke="#000" stroke-width="1.35"/>
<path d="M1341.4 908.8 L1341.4 923.8" stroke="#000" stroke-width="1.35"/>
<path d="M1347.5 908.8 L1347.5 923.8" stroke="#000" stroke-width="1.35"/>
<path d="M1354.5 908.8 L1354.5 923.8" stroke="#000" stroke-width="1.35"/>
<path d="M1363.2 908.8 L1363.2 923.8" stroke="#000" stroke-width="1.35"/>
<path d="M1369.3 905.9 L1369.3 926.7" stroke="#000" stroke-width="1.35"/>
<path d="M1375.3 905.9 L1375.3 926.7" stroke="#000" stroke-width="1.35"/>
<path d="M1385.4 905.9 L1385.4 926.7" stroke="#000" stroke-width="1.35"/>
<path d="M1391.4 905.9 L1391.4 926.7" stroke="#000" stroke-width="1.35"/>
<path d="M1397.4 905.9 L1397.4 926.7" stroke="#000" stroke-width="1.35"/>
<path d="M1403.4 905.9 L1403.4 926.7" stroke="#000" stroke-width="1.35"/>
<path d="M1409.4 905.9 L1409.4 926.7" stroke="#000" stroke-width="1.35"/>
<path d="M1418.6 905.9 L1418.6 926.7" stroke="#000" stroke-width="1.35"/>
<path d="M1425.5 902.8 L1425.5 929.8" stroke="#000" stroke-width="1.35"/>
<path d="M1431.6 902.8 L1431.6 929.8" stroke="#000" stroke-width="1.35"/>
<path d="M1437.6 902.8 L1437.6 929.8" stroke="#000" stroke-width="1.35"/>
<path d="M1447.4 902.8 L1447.4 929.8" stroke="#000" stroke-width="1.35"/>
<path d="M1453.4 902.8 L1453.4 929.8" stroke="#000" stroke-width="1.35"/>
<path d="M1459.5 902.8 L1459.5 929.8" stroke="#000" stroke-width="1.35"/>
<path d="M1468.5 902.8 L1468.5 929.8" stroke="#000" stroke-width="1.35"/>
<path d="M1475.6 899.9 L1475.6 932.7" stroke="#000" stroke-width="1.35"/>
<path d="M1481.6 899.9 L1481.6 932.7" stroke="#000" stroke-width="1.35"/>
<path d="M1490.3 899.9 L1490.3 932.7" stroke="#000" stroke-width="1.35"/>
<path d="M1496.4 899.9 L1496.4 932.7" stroke="#000" stroke-width="1.35"/>
<path d="M1503.5 899.9 L1503.5 932.7" stroke="#000" stroke-width="1.35"/>
<path d="M1512.5 899.9 L1512.5 932.7" stroke="#000" stroke-width="1.35"/>
<path d="M1518.5 899.9 L1518.5 932.7" stroke="#000" stroke-width="1.35"/>
<path d="M1525.6 896.8 L1525.6 935.8" stroke="#000" stroke-width="1.35"/>
<path d="M1531.5 896.8 L1531.5 935.8" stroke="#000" stroke-width="1.35"/>
<path d="M1540.6 896.8 L1540.6 935.8" stroke="#000" stroke-width="1.35"/>
<path d="M1546.4 896.8 L1546.4 935.8" stroke="#000" stroke-width="1.35"/>
<path d="M1553.4 896.8 L1553.4 935.8" stroke="#000" stroke-width="1.35"/>
<path d="M1562.5 896.8 L1562.5 935.8" stroke="#000" stroke-width="1.35"/>
<path d="M1568.6 896.8 L1568.6 935.8" stroke="#000" stroke-width="1.35"/>
<path d="M1575.1 893.4 L1575.1 939.2" stroke="#000" stroke-width="1.35"/>
<path d="M1584.5 893.4 L1584.5 939.2" stroke="#000" stroke-width="1.35"/>
<path d="M1590.6 893.4 L1590.6 939.2" stroke="#000" stroke-width="1.35"/>
<path d="M1596.7 893.4 L1596.7 939.2" stroke="#000" stroke-width="1.35"/>
<path d="M1603.7 893.4 L1603.7 939.2" stroke="#000" stroke-width="1.35"/>
<path d="M1612.4 893.4 L1612.4 939.2" stroke="#000" stroke-width="1.35"/>
<path d="M1618.5 893.4 L1618.5 939.2" stroke="#000" stroke-width="1.35"/>
<path d="M1624.5 891.4 L1624.5 941.3" stroke="#000" stroke-width="1.35"/>
<path d="M1634.6 891.4 L1634.6 941.3" stroke="#000" stroke-width="1.35"/>
<path d="M1640.6 891.4 L1640.6 941.3" stroke="#000" stroke-width="1.35"/>
<path d="M1646.6 891.4 L1646.6 941.3" stroke="#000" stroke-width="1.35"/>
<path d="M1652.5 791.3 L1652.5 941.3" stroke="#000" stroke-width="2.2"/>
<rect x="578" y="531" width="17.7" height="46.6" fill="#000"/>
<path d="M603.1 557.5 L648.7 557.5 L648.7 586 L603.1 586 L603.1 572.7 L631 572.7 L631 564.8 L603.1 564.8 Z" fill="#000"/>
<path d="M554.5 557.5 L554.5 586.0" stroke="#000" stroke-width="1.35"/>
<path d="M576.0 544.7 L576.0 557.5" stroke="#000" stroke-width="1.35"/>
<path d="M604.2 564.8 L604.2 572.7" stroke="#000" stroke-width="1.2"/>
<rect x="577.8" y="797.2" width="18.1" height="48.5" fill="#000"/>
<path d="M603.3 791.3 L648.9 791.3 L648.9 820.2 L603.3 820.2 L603.3 809.9 L631.2 809.9 L631.2 801.6 L603.3 801.6 Z" fill="#000"/>
<path d="M554.7 791.8 L554.7 819.2" stroke="#000" stroke-width="1.35"/>
<path d="M604.4 801.6 L604.4 809.9" stroke="#000" stroke-width="1.2"/>
<path d="M241.0 689.0 L448.5 689.0" stroke="#000" stroke-width="1.7"/>
<path d="M479.4 689.0 L503.7 689.0" stroke="#000" stroke-width="1.7"/>
<path d="M534.5 689.0 L706.7 689.0" stroke="#000" stroke-width="1.7"/>
<path d="M735.4 689.0 L762.0 689.0" stroke="#000" stroke-width="1.7"/>
<path d="M795.0 689.0 L965.0 689.0" stroke="#000" stroke-width="1.7"/>
<path d="M993.6 689.0 L1020.0 689.0" stroke="#000" stroke-width="1.7"/>
<path d="M1051.0 689.0 L1225.8 689.0" stroke="#000" stroke-width="1.7"/>
<path d="M1252.6 689.0 L1281.6 689.0" stroke="#000" stroke-width="1.7"/>
<path d="M1308.3 689.0 L1484.4 689.0" stroke="#000" stroke-width="1.7"/>
<path d="M1514.3 689.0 L1541.0 689.0" stroke="#000" stroke-width="1.7"/>
<path d="M1569.0 689.0 L1744.3 689.0" stroke="#000" stroke-width="1.7"/>
<path d="M1772.0 689.0 L1801.0 689.0" stroke="#000" stroke-width="1.7"/>
<path d="M1827.7 689.0 L1866.0 689.0" stroke="#000" stroke-width="1.7"/>
<path d="M1866.0 689.0 L2035.0 689.0" stroke="#000" stroke-width="1.7"/>
<path d="M4.2 632.3 L107.9 632.3" stroke="#000" stroke-width="1.5"/>
<path d="M137.3 632.3 L166.7 632.3" stroke="#000" stroke-width="1.5"/>
<path d="M199.9 632.3 L366.6 632.3" stroke="#000" stroke-width="1.5"/>
<path d="M394.8 632.3 L423.0 632.3" stroke="#000" stroke-width="1.5"/>
<path d="M453.6 632.3 L558.5 632.3" stroke="#000" stroke-width="1.5"/>
<path d="M263.0 56.0 L358.8 56.0" stroke="#000" stroke-width="2.3"/>
<path d="M263 56 L205.3 363.7" stroke="#000" stroke-width="1.9"/>
<path d="M205.3 363.7 L220.0 325.8 L205.3 323.0 Z" fill="#000"/>
<text transform="translate(276.87 40.6) scale(0.9165 1)" font-family="Liberation Serif" font-size="53">106</text>
<path d="M500.0 56.0 L596.2 56.0" stroke="#000" stroke-width="2.3"/>
<path d="M500 56 L400.8 567.5" stroke="#000" stroke-width="1.9"/>
<path d="M400.8 567.5 L416.5 528.8 L400.8 525.7 Z" fill="#000"/>
<text transform="translate(498.37 40.6) scale(0.9400 1)" font-family="Liberation Serif" font-size="53">105b</text>
<path d="M665.0 56.0 L761.0 56.0" stroke="#000" stroke-width="2.3"/>
<path d="M665 56 L438.5 493.3" stroke="#000" stroke-width="1.9"/>
<path d="M438.5 493.3 L463.1 459.9 L451.6 453.9 Z" fill="#000"/>
<text transform="translate(666.37 40.6) scale(0.9400 1)" font-family="Liberation Serif" font-size="53">105a</text>
<path d="M829.7 56.0 L926.7 56.0" stroke="#000" stroke-width="2.3"/>
<path d="M829.7 56 L589.8 531" stroke="#000" stroke-width="1.9"/>
<path d="M589.8 531 L609.1 506.0 L598.4 500.6 Z" fill="#000"/>
<text transform="translate(853.87 40.6) scale(0.9174 1)" font-family="Liberation Serif" font-size="53">104</text>
<path d="M1077.2 56.0 L1173.2 56.0" stroke="#000" stroke-width="2.3"/>
<path d="M1077.2 56 L643.8 555.5" stroke="#000" stroke-width="1.9"/>
<path d="M643.8 555.5 L675.7 530.2 L664.3 520.4 Z" fill="#000"/>
<text transform="translate(1090.16 40.6) scale(0.8977 1)" font-family="Liberation Serif" font-size="53">103</text>
<path d="M1561.8 56.0 L1657.0 56.0" stroke="#000" stroke-width="2.3"/>
<path d="M1561.8 56 L1281 526" stroke="#000" stroke-width="1.9"/>
<path d="M1281 526 L1309.4 494.0 L1295.7 485.8 Z" fill="#000"/>
<text transform="translate(1562.07 40.6) scale(0.9400 1)" font-family="Liberation Serif" font-size="53">102</text>
<path d="M1794.3 56.0 L1894.3 56.0" stroke="#000" stroke-width="2.3"/>
<path d="M1794.3 56 L1540.5 677.7" stroke="#000" stroke-width="1.9"/>
<path d="M1540.5 677.7 L1563.4 642.8 L1548.6 636.7 Z" fill="#000"/>
<text transform="translate(1798.23 40.6) scale(0.8808 1)" font-family="Liberation Serif" font-size="53">101</text>
<path d="M650.6 579.6 L650.6 586.0" stroke="#000" stroke-width="1.35"/>
<path d="M680.0 579.6 L680.0 586.0" stroke="#000" stroke-width="1.35"/>
<path d="M650.6 791.3 L650.6 798.0" stroke="#000" stroke-width="1.35"/>
<path d="M680.0 791.3 L680.0 798.0" stroke="#000" stroke-width="1.35"/>
</svg></body></html>
